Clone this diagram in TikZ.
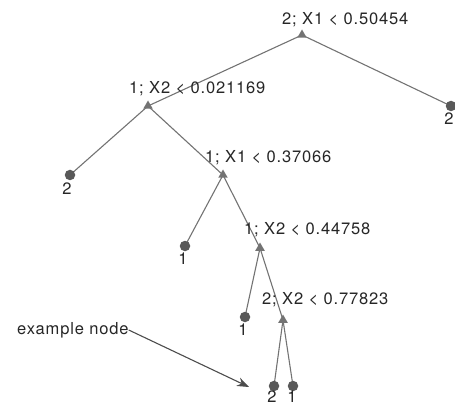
\documentclass[tikz,border=0pt]{standalone}
\usepackage{fontspec}
\setmainfont{TeX Gyre Heros}
\usetikzlibrary{shapes.geometric,arrows.meta}
\begin{document}
\begin{tikzpicture}[x=1pt,y=-1pt,
  edge/.style={draw=black!55,line width=1.1pt},
  split/.style={regular polygon,regular polygon sides=3,fill=black!55,inner sep=0pt,minimum size=11pt},
  leaf/.style={circle,fill=black!65,inner sep=0pt,minimum size=10.5pt},
  lab/.style={font=\fontsize{16.5}{18}\selectfont\addfontfeature{LetterSpace=5},text=black!85,inner sep=0pt}]
\useasboundingbox (0,0) rectangle (455,406);
% edges drawn between named coordinates
\coordinate (n1) at (302,35);
\coordinate (n2) at (148,106);
\coordinate (n3) at (223,175);
\coordinate (n4) at (260,248);
\coordinate (n5) at (283,320);
\coordinate (l1) at (451,106);
\coordinate (l2) at (70,175);
\coordinate (l3) at (185,246);
\coordinate (l4) at (245,317);
\coordinate (l5) at (274,386);
\coordinate (l6) at (293,386);
\draw[edge] (n1) -- (n2);
\draw[edge] (n1) -- (l1);
\draw[edge] (n2) -- (l2);
\draw[edge] (n2) -- (n3);
\draw[edge] (n3) -- (l3);
\draw[edge] (n3) -- (n4);
\draw[edge] (n4) -- (l4);
\draw[edge] (n4) -- (n5);
\draw[edge] (n5) -- (l5);
\draw[edge] (n5) -- (l6);
% markers
\node[split] (m1) at (n1) {};
\node[split] (m2) at (n2) {};
\node[split] (m3) at (n3) {};
\node[split] (m4) at (n4) {};
\node[split] (m5) at (n5) {};
\node[leaf] (k1) at (l1) {};
\node[leaf] (k2) at (l2) {};
\node[leaf] (k3) at (l3) {};
\node[leaf] (k4) at (l4) {};
\node[leaf] (k5) at (l5) {};
\node[leaf] (k6) at (l6) {};
% labels
\node[lab,anchor=west] (t1) at (282,20) {2; X1 < 0.50454};
\node[lab,anchor=west] (t2) at (129,89) {1; X2 < 0.021169};
\node[lab,anchor=west] (t3) at (205,158) {1; X1 < 0.37066};
\node[lab,anchor=west] (t4) at (244,230) {1; X2 < 0.44758};
\node[lab,anchor=west] (t5) at (262,300) {2; X2 < 0.77823};
\node[lab] (tl1) at (449,119) {2};
\node[lab] (tl2) at (67,189) {2};
\node[lab] (tl3) at (183,259) {1};
\node[lab] (tl4) at (243,330) {1};
\node[lab] (tl5) at (272,397) {2};
\node[lab] (tl6) at (292,397) {1};
\node[lab,anchor=west] (ex) at (17,330) {example node};
\coordinate (tip) at (249,387);
\draw[edge,draw=black!70,-{Stealth[length=12pt,width=9pt]}] (ex.east) -- (tip);
\end{tikzpicture}
\end{document}
